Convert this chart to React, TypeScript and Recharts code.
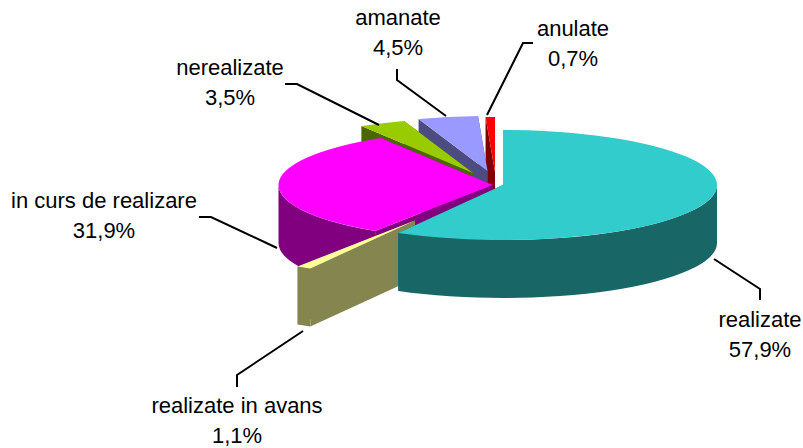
import React from "react";
import { PieChart, Pie } from "recharts";

// Listed counter-clockwise from 12 o'clock so that the nearest slices paint last.
const categories = ["anulate", "amanate", "nerealizate", "in curs de realizare", "realizate in avans", "realizate"];
const values = [0.7, 4.5, 3.5, 31.9, 1.1, 57.9];
const valueLabels = ["0,7%", "4,5%", "3,5%", "31,9%", "1,1%", "57,9%"];
const topColors = ["#FF0000", "#9999FF", "#99CC00", "#FF00FF", "#FFFF99", "#33CCCC"];
const sideColors = ["#800000", "#4C4C80", "#4C6600", "#800080", "#858550", "#196666"];

// Explosion of each slice away from the pie centre (pixels)
const explodeX = [-8, -15.5, -30, -10.5, -88, 0];
const explodeY = [-13, -14, -12, 0, 35.5, 0];

// Label anchors and leader lines
const labelX = [573, 398, 230, 104, 237, 760];
const labelY = [36, 25, 75, 208, 413, 327];
const leaders = [
  "533,43 523,43 487,115",
  "397,69 397,80 446,116",
  "285,84 297,84 379,125",
  "199,217 211,217 277,248",
  "303,331 237,375 237,387",
  "714,259 760,289 760,300",
];

const CX = 503;
const CY = 185;
const RX = 214;
const TILT = 0.257;
const DEPTH = 58;
const LINE_GAP = 30;
const FONT = "'Liberation Sans', Arial, sans-serif";

const data = categories.map((name, i) => ({ name, value: values[i] }));

function Slice3D(props: any) {
  const { cx, cy, outerRadius, startAngle, endAngle } = props;
  const name = props.name ?? props.payload?.name;
  const i = categories.indexOf(name);
  const ax = cx + explodeX[i];
  const ay = cy + explodeY[i];
  const rx = outerRadius;
  const ry = outerRadius * TILT;
  const a0 = Math.min(startAngle, endAngle);
  const a1 = Math.max(startAngle, endAngle);
  const pt = (a: number, d = 0): [number, number] => {
    const r = (a * Math.PI) / 180;
    return [ax + rx * Math.cos(r), ay - ry * Math.sin(r) + d];
  };
  const radial = (a: number) => {
    const p = pt(a);
    return `M${ax},${ay} L${p[0]},${p[1]} L${p[0]},${p[1] + DEPTH} L${ax},${ay + DEPTH} Z`;
  };
  const [s0, s1] = pt(a0);
  const [e0, e1] = pt(a1);
  const top = `M${ax},${ay} L${s0},${s1} A${rx},${ry} 0 ${a1 - a0 > 180 ? 1 : 0} 0 ${e0},${e1} Z`;

  // The visible part of the rim is the front half of the ellipse
  const v0 = Math.max(a0, -180);
  const v1 = Math.min(a1, 0);
  let rim = "";
  if (v1 > v0) {
    const [x0, y0] = pt(v0);
    const [x1, y1] = pt(v1);
    rim = `M${x0},${y0} A${rx},${ry} 0 0 0 ${x1},${y1} L${x1},${y1 + DEPTH} A${rx},${ry} 0 0 1 ${x0},${y0 + DEPTH} Z`;
  }
  return (
    <g>
      <path d={radial(a0)} fill={sideColors[i]} />
      <path d={radial(a1)} fill={sideColors[i]} />
      {rim && <path d={rim} fill={sideColors[i]} />}
      <path d={top} fill={topColors[i]} />
    </g>
  );
}

function SliceLabel(props: any) {
  const i = categories.indexOf(props.name ?? props.payload?.name);
  return (
    <g>
      <polyline points={leaders[i]} fill="none" stroke="#000" strokeWidth={2} />
      <text x={labelX[i]} y={labelY[i]} textAnchor="middle" fontFamily={FONT} fontSize={22} fill="#000">
        {categories[i]}
      </text>
      <text x={labelX[i]} y={labelY[i] + LINE_GAP} textAnchor="middle" fontFamily={FONT} fontSize={22} fill="#000">
        {valueLabels[i]}
      </text>
    </g>
  );
}

export default function App() {
  return (
    <div style={{ position: "absolute", left: 0, top: 0, width: 803, height: 448, background: "#fff" }}>
      <PieChart width={803} height={448} margin={{ top: 0, right: 0, bottom: 0, left: 0 }}>
        <Pie
          data={data}
          dataKey="value"
          nameKey="name"
          cx={CX}
          cy={CY}
          innerRadius={0}
          outerRadius={RX}
          startAngle={-270}
          endAngle={90}
          stroke="none"
          isAnimationActive={false}
          shape={Slice3D as any}
          activeShape={Slice3D as any}
          inactiveShape={Slice3D as any}
          label={SliceLabel as any}
          labelLine={false}
        />
      </PieChart>
    </div>
  );
}
